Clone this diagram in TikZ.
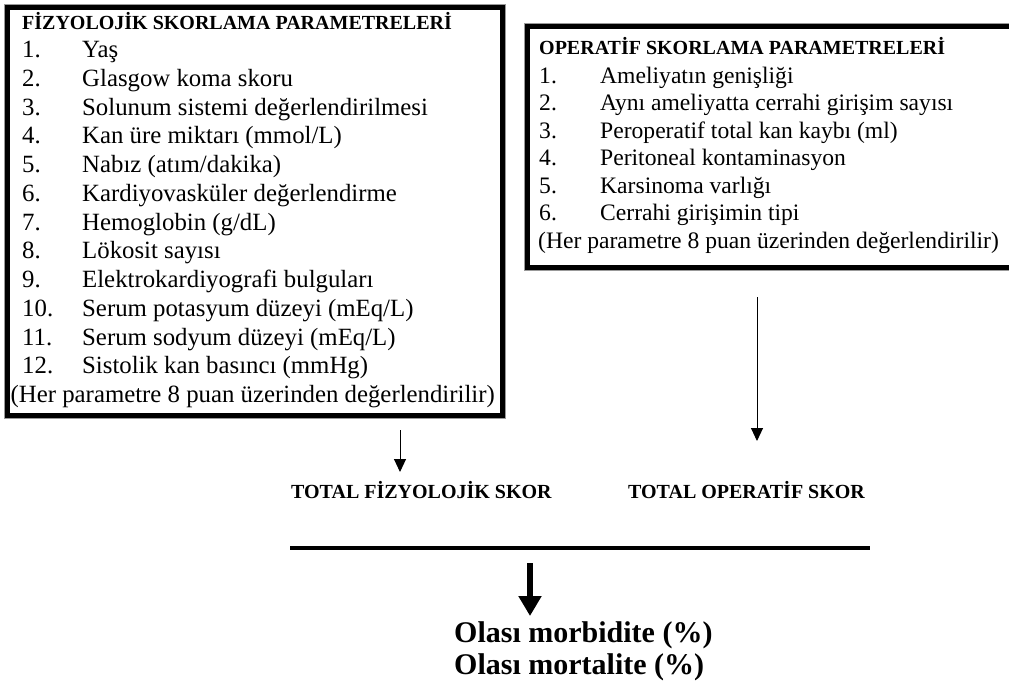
\documentclass[tikz,border=0pt]{standalone}
\usepackage{fontspec}
\setmainfont{Liberation Serif}
\usetikzlibrary{arrows.meta}
\begin{document}
\begin{tikzpicture}[x=1pt,y=-1pt,
  framebox/.style={draw=black,line width=5pt,inner sep=0pt,anchor=north west},
  shadowline/.style={draw=black!40,line width=1pt},
  head/.style={font=\fontsize{20}{24}\selectfont\bfseries,anchor=base west,inner sep=0pt},
  litem/.style={font=\fontsize{24.8}{29}\selectfont,anchor=base west,inner sep=0pt},
  ritem/.style={font=\fontsize{23.6}{27}\selectfont,anchor=base west,inner sep=0pt},
  total/.style={font=\fontsize{20}{24}\selectfont\bfseries,anchor=base west,inner sep=0pt},
  res/.style={font=\fontsize{30}{34}\selectfont\bfseries,anchor=base west,inner sep=0pt},
  thinarrow/.style={line width=1pt,-{Triangle[length=13pt,width=12pt]}},
  bigarrow/.style={line width=6pt,-{Triangle[length=20pt,width=22pt]}},
  bar/.style={line width=4.5pt}
]
\useasboundingbox (0,0) rectangle (1009,681);
\fill[white] (0,0) rectangle (1009,681);

% left box
\node[framebox,minimum width=495pt,minimum height=408pt] (lbox) at (5,4.5) {};
\draw[shadowline] ([shift={(-0.5,-0.5)}]lbox.north west) rectangle ([shift={(0.5,0.5)}]lbox.south east);
\node[head] (lhead) at (22,29.5) {FİZYOLOJİK SKORLAMA PARAMETRELERİ};
\foreach \n/\t [count=\i] in {1./{Yaş},2./{Glasgow koma skoru},3./{Solunum sistemi değerlendirilmesi},4./{Kan üre miktarı (mmol/L)},5./{Nabız (atım/dakika)},6./{Kardiyovasküler değerlendirme},7./{Hemoglobin (g/dL)},8./{Lökosit sayısı},9./{Elektrokardiyografi bulguları},10./{Serum potasyum düzeyi (mEq/L)},11./{Serum sodyum düzeyi (mEq/L)},12./{Sistolik kan basıncı (mmHg)}}{
  \node[litem] (lnum\i) at (22,{57.5+(\i-1)*28.75}) {\n};
  \node[litem] (ltxt\i) at (82,{57.5+(\i-1)*28.75}) {\t};
}
\node[litem] (lnote) at (10.5,402.5) {(Her parametre 8 puan üzerinden değerlendirilir)};

% right box (runs past the right edge)
\node[framebox,minimum width=495pt,minimum height=241pt] (rbox) at (524.5,23.5) {};
\draw[shadowline] ([shift={(-0.5,-0.5)}]rbox.north west) rectangle ([shift={(0.5,0.5)}]rbox.south east);
\node[head] (rhead) at (539,54) {OPERATİF SKORLAMA PARAMETRELERİ};
\foreach \n/\t [count=\i] in {1./{Ameliyatın genişliği},2./{Aynı ameliyatta cerrahi girişim sayısı},3./{Peroperatif total kan kaybı (ml)},4./{Peritoneal kontaminasyon},5./{Karsinoma varlığı},6./{Cerrahi girişimin tipi}}{
  \node[ritem] (rnum\i) at (539,{83+(\i-1)*27.5}) {\n};
  \node[ritem] (rtxt\i) at (600,{83+(\i-1)*27.5}) {\t};
}
\node[ritem] (rnote) at (538,248) {(Her parametre 8 puan üzerinden değerlendirilir)};

% totals
\node[total] (tfiz) at (291,498) {TOTAL FİZYOLOJİK SKOR};
\node[total] (topr) at (628,498) {TOTAL OPERATİF SKOR};

% arrows
\coordinate (la0) at (400,430);
\coordinate (la1) at (400,472);
\draw[thinarrow] (la0) -- (la1);
\coordinate (ra0) at (757,297);
\coordinate (ra1) at (757,441);
\draw[thinarrow] (ra0) -- (ra1);

\coordinate (bar0) at (290,548);
\coordinate (bar1) at (870,548);
\draw[bar] (bar0) -- (bar1);

\coordinate (ba0) at (530,563);
\coordinate (ba1) at (530,616);
\draw[bigarrow] (ba0) -- (ba1);

% results
\node[res] (morb) at (454,642) {Olası morbidite (\%)};
\node[res] (mort) at (454,674) {Olası mortalite (\%)};
\end{tikzpicture}
\end{document}
